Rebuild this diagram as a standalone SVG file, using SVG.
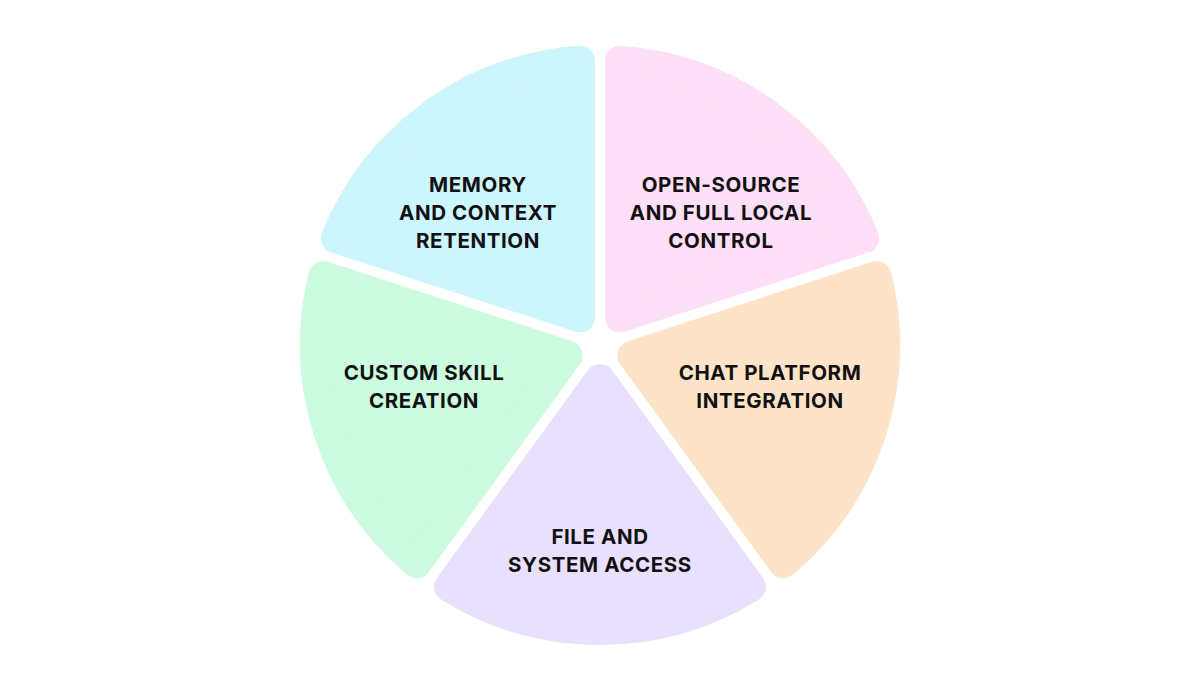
<svg xmlns="http://www.w3.org/2000/svg" width="1200" height="690" viewBox="0 0 1200 690">
<style>
.w{stroke-width:30;stroke-linejoin:round}
text{font-family:Inter,"Liberation Sans",sans-serif;font-weight:700;font-size:20.5px;letter-spacing:0.6px;fill:#111;text-anchor:middle}
</style>
<rect width="1200" height="690" fill="#fff"/>
<g id="open-source"><path class="w" fill="#fddff7" stroke="#fddff7" d="M620,317.5 L620,60.7 A285,285 0 0 1 864.2,238.1 Z"/>
<text x="721" y="192">OPEN-SOURCE</text><text x="721" y="220">AND FULL LOCAL</text><text x="721" y="248">CONTROL</text></g>
<g id="chat"><path class="w" fill="#fde4c8" stroke="#fde4c8" d="M632.3,355.5 L876.6,276.1 A285,285 0 0 1 783.3,563.3 Z"/>
<text x="770" y="380">CHAT PLATFORM</text><text x="770" y="408">INTEGRATION</text></g>
<g id="file"><path class="w" fill="#e8e0fd" stroke="#e8e0fd" d="M600,379 L751,586.7 A285,285 0 0 1 449,586.7 Z"/>
<text x="600" y="544">FILE AND</text><text x="600" y="572">SYSTEM ACCESS</text></g>
<g id="custom"><path class="w" fill="#ccfbdf" stroke="#ccfbdf" d="M567.7,355.5 L416.7,563.3 A285,285 0 0 1 323.4,276.1 Z"/>
<text x="424" y="380">CUSTOM SKILL</text><text x="424" y="408">CREATION</text></g>
<g id="memory"><path class="w" fill="#cdf5fd" stroke="#cdf5fd" d="M580,317.5 L335.8,238.1 A285,285 0 0 1 580,60.7 Z"/>
<text x="478" y="192">MEMORY</text><text x="478" y="220">AND CONTEXT</text><text x="478" y="248">RETENTION</text></g>
<g id="connectors"/>
</svg>
